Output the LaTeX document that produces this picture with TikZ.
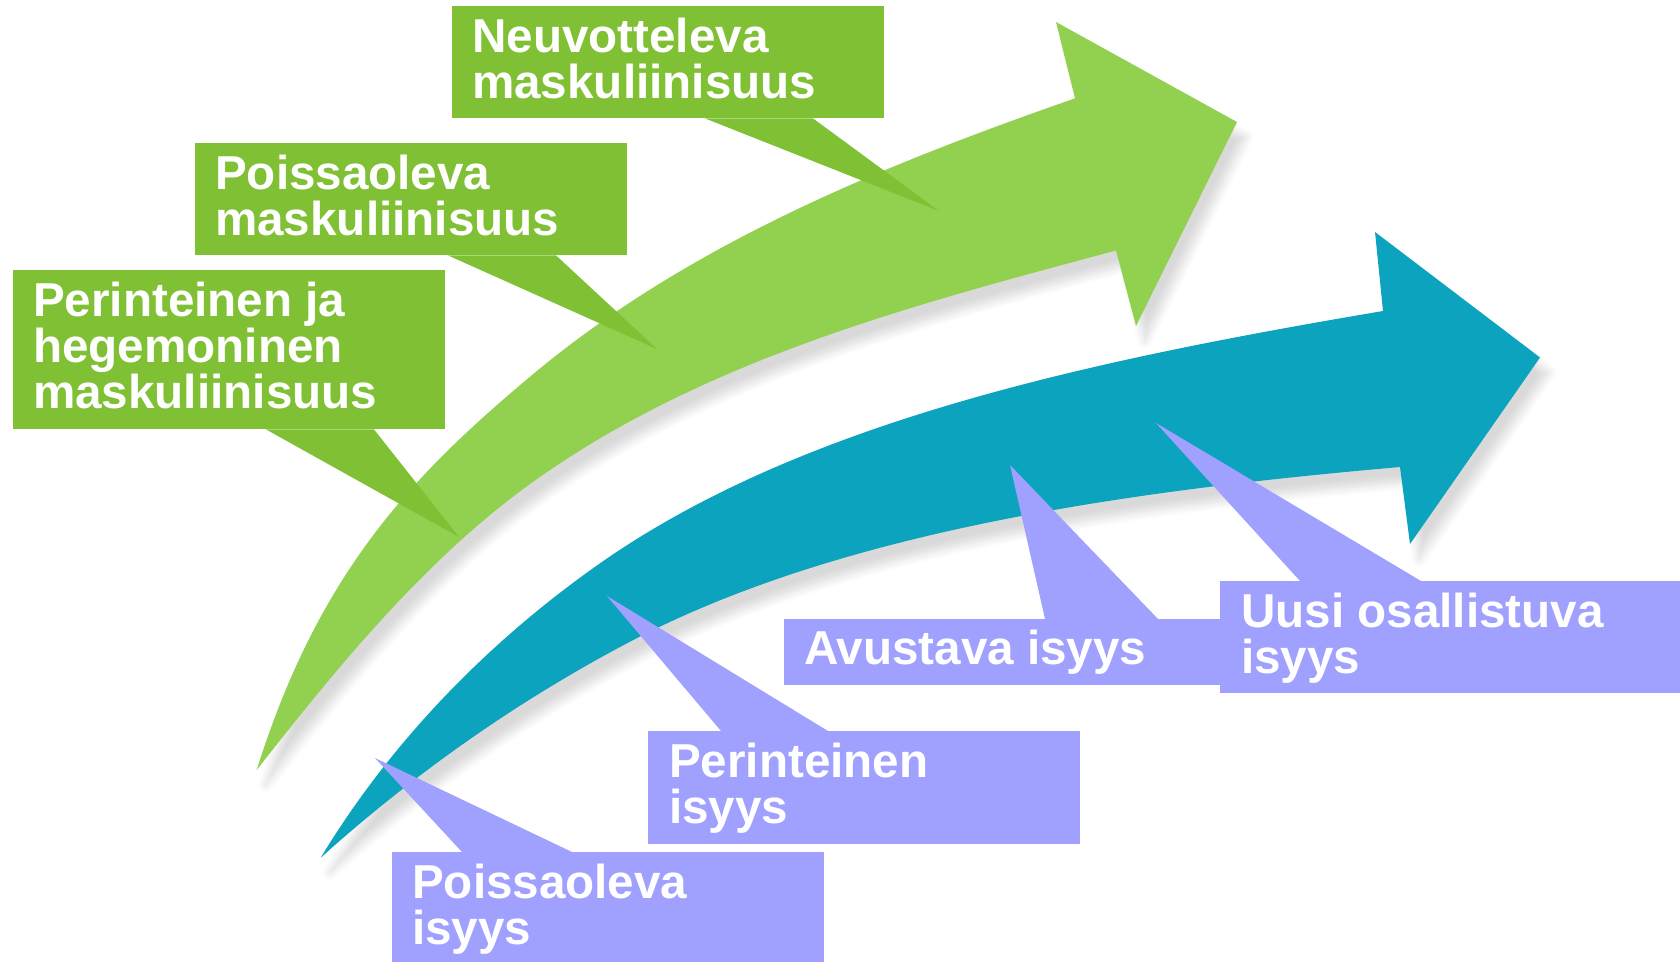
\documentclass[tikz,border=0pt]{standalone}
\usepackage{fontspec}
\setmainfont{Liberation Sans}
\usepackage{tikz}
\usetikzlibrary{positioning,calc,shadows.blur}

\definecolor{arrowgreen}{HTML}{92D050}
\definecolor{calloutgreen}{HTML}{7FC034}
\definecolor{arrowteal}{HTML}{0BA3BD}
\definecolor{calloutblue}{HTML}{A0A0FF}

\tikzset{
    greenbox/.style={fill=calloutgreen, inner sep=0pt, anchor=north west, minimum width=432pt},
    bluebox/.style={fill=calloutblue, inner sep=0pt, anchor=north west, minimum width=432pt},
    boxtext/.style={text=white, font=\fontsize{47.6}{46}\selectfont\bfseries, align=left, inner sep=0pt},
    arrowshadow/.style={blur shadow={shadow xshift=9pt, shadow yshift=-15pt, shadow blur radius=8pt, shadow blur steps=10, shadow opacity=15}}
}

\begin{document}
\begin{tikzpicture}[x=1pt, y=-1pt]
    \useasboundingbox (0,0) rectangle (1680,961);

    % Green arrow (maskuliinisuus)
    \fill[arrowgreen, arrowshadow] (256.7,770)
        .. controls (319.5,569.7) and (415.1,473.2) .. (530,376.7)
        .. controls (687.8,244.2) and (880.5,166.3) .. (1075,98.3)
        -- (1056,22) -- (1237,122) -- (1136,326) -- (1116,250.5)
        .. controls (911.2,305.4) and (701.9,360) .. (530,484)
        .. controls (424.6,560.1) and (336.8,667.6) .. (256.7,770) -- cycle;

    % Teal arrow (isyys)
    \fill[arrowteal, arrowshadow] (320.7,857.7)
        .. controls (391.1,741.4) and (488.6,641.4) .. (600,563.3)
        .. controls (804.8,419.8) and (1097,359.4) .. (1383,311)
        -- (1375,232) -- (1540,357.5) -- (1410,544) -- (1400,467)
        .. controls (1137,490) and (846.2,529.1) .. (633.3,640)
        .. controls (520.7,698.7) and (415.1,772.7) .. (320.7,857.7) -- cycle;

    % Green callouts
    \node[greenbox, minimum height=112pt] (neuv) at (452,6) {};
    \node[greenbox, minimum height=112pt] (poism) at (195,143) {};
    \node[greenbox, minimum height=159pt] (perim) at (13,270) {};

    \coordinate (neuvtip) at (939,211);
    \coordinate (poismtip) at (657,349);
    \coordinate (perimtip) at (459,537);

    \foreach \callout in {neuv, poism, perim}
    {
        \fill[calloutgreen] ([xshift=253pt]\callout.south west) -- (\callout tip) -- ([xshift=361pt]\callout.south west) -- cycle;
    }

    \node[boxtext, below right=12pt and 20pt of neuv.north west] (neuvtext) {Neuvotteleva\\maskuliinisuus};
    \node[boxtext, below right=12pt and 20pt of poism.north west] (poismtext) {Poissaoleva\\maskuliinisuus};
    \node[boxtext, below right=12pt and 20pt of perim.north west] (perimtext) {Perinteinen ja\\hegemoninen\\maskuliinisuus};

    % Blue callouts
    \node[bluebox, minimum height=112pt] (poisi) at (392,852) {};
    \node[bluebox, minimum height=113pt] (perii) at (648,731) {};
    \node[bluebox, minimum width=436pt, minimum height=66pt] (avus) at (784,619) {};
    \node[bluebox, minimum width=470pt, minimum height=112pt] (uusi) at (1220,581) {};

    \coordinate (poisitip) at (375,758);
    \coordinate (periitip) at (607,596);
    \coordinate (avustip) at (1010,465);
    \coordinate (uusitip) at (1156,423);

    \fill[calloutblue] ([xshift=70pt]poisi.north west) -- (poisitip) -- ([xshift=180pt]poisi.north west) -- cycle;
    \fill[calloutblue] ([xshift=73pt]perii.north west) -- (periitip) -- ([xshift=180pt]perii.north west) -- cycle;
    \fill[calloutblue] ([xshift=261pt]avus.north west) -- (avustip) -- ([xshift=374pt]avus.north west) -- cycle;
    \fill[calloutblue] ([xshift=80pt]uusi.north west) -- (uusitip) -- ([xshift=201pt]uusi.north west) -- cycle;

    \node[boxtext, below right=12pt and 20pt of poisi.north west] (poisitext) {Poissaoleva\\isyys};
    \node[boxtext, below right=12pt and 21pt of perii.north west] (periitext) {Perinteinen\\isyys};
    \node[boxtext, below right=11pt and 20pt of avus.north west] (avustext) {Avustava isyys};
    \node[boxtext, below right=12pt and 21pt of uusi.north west] (uusitext) {Uusi osallistuva\\isyys};
\end{tikzpicture}
\end{document}
